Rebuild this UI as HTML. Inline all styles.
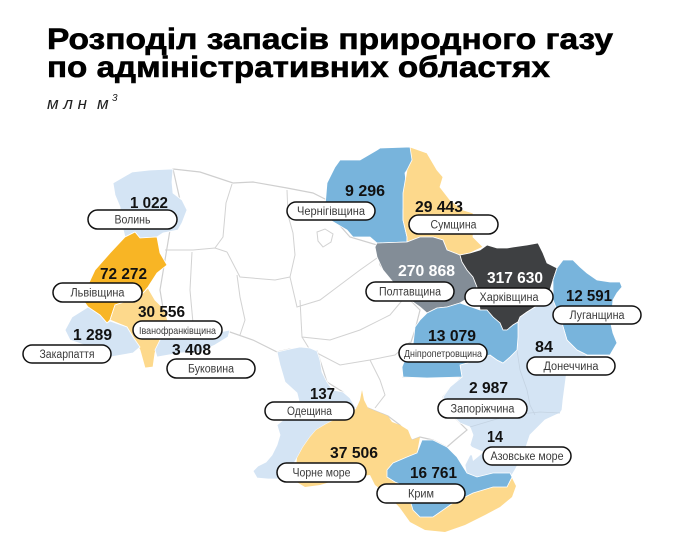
<!DOCTYPE html>
<html>
<head>
<meta charset="utf-8">
<style>
html,body{margin:0;padding:0;background:#fff;}
body{width:690px;height:555px;overflow:hidden;}
svg{display:block;}
.num{font-family:"Liberation Sans","DejaVu Sans",sans-serif;font-weight:bold;font-size:16px;fill:#111;}
.numw{fill:#fff;}
.lbl{font-family:"Liberation Sans","DejaVu Sans",sans-serif;font-size:11.5px;fill:#3a3a3a;}
.sm{font-size:10.5px;}
.pill{fill:#fff;stroke:#111;stroke-width:1.5;}
.ln{fill:none;stroke:#d2d2d2;stroke-width:1;}
</style>
</head>
<body>
<svg width="690" height="555" viewBox="0 0 690 555" xmlns="http://www.w3.org/2000/svg">
<!-- Title -->
<text x="47" y="49" font-family="'Liberation Sans','DejaVu Sans',sans-serif" font-weight="bold" font-size="30" fill="#000" stroke="#000" stroke-width="0.6" textLength="566" lengthAdjust="spacingAndGlyphs">Розподіл запасів природного газу</text>
<text x="47" y="77" font-family="'Liberation Sans','DejaVu Sans',sans-serif" font-weight="bold" font-size="30" fill="#000" stroke="#000" stroke-width="0.6" textLength="503" lengthAdjust="spacingAndGlyphs">по адміністративних областях</text>
<text x="47" y="109" font-family="'Liberation Sans','DejaVu Sans',sans-serif" font-style="italic" font-size="17" fill="#222" textLength="40" lengthAdjust="spacing">млн</text>
<text x="97" y="109" font-family="'Liberation Sans','DejaVu Sans',sans-serif" font-style="italic" font-size="17" fill="#222">м</text>
<text x="112" y="101" font-family="'Liberation Sans','DejaVu Sans',sans-serif" font-style="italic" font-size="10" fill="#222">3</text>

<!-- White body of country -->
<polygon fill="#fff" stroke="#cfcfcf" stroke-width="1.2" points="173,169 200,172 233,183 253,182 287,188 313,193 327,200 335,220 350,237 377,245 380,265 397,287 410,300 420,310 415,330 405,360 403,377 462,377 450,388 443,397 450,413 460,423 467,430 455,440 447,447 433,440 420,437 412,440 400,425 388,416 368,408 356,408 343,392 327,382 320,360 317,351 290,349 277,352 253,340 230,332 200,333 175,333 165,320 160,290 165,260 170,230 180,200"/>

<!-- internal gray lines -->
<polyline class="ln" points="232,184 226,203 223,237 215,248"/>
<polyline class="ln" points="165,250 193,250 215,248 227,252"/>
<polyline class="ln" points="192,252 190,290 193,323 195,333"/>
<polyline class="ln" points="287,190 288,215 293,233 295,255 290,277"/>
<polyline class="ln" points="227,252 240,277 275,280 290,277"/>
<polyline class="ln" points="237,275 240,297 245,320 240,335"/>
<polyline class="ln" points="290,277 297,307 320,300 340,285 360,270 377,258"/>
<polyline class="ln" points="300,300 302,337 330,340 360,330 390,315 405,297"/>
<polyline class="ln" points="302,337 310,350"/>
<polyline class="ln" points="317,353 340,365 370,360 395,355 410,342"/>
<polyline class="ln" points="370,360 380,380 385,395 375,408"/>
<polygon class="ln" points="317,232 325,229 333,234 331,242 323,247 318,241"/>

<!-- Volyn -->
<polygon fill="#d4e4f4" stroke="#fff" stroke-width="0.8" points="113,183 132,172 150,170 173,169 172,182 173,193 182,200 187,210 182,223 178,230 163,233 157,237 140,238 135,232 125,237 122,225 120,207 115,195"/>
<!-- Lviv -->
<polygon fill="#f8b525" stroke="#fff" stroke-width="0.8" points="125,237 135,232 140,238 157,237 160,253 167,265 157,273 148,287 143,293 130,300 115,305 110,320 107,323 100,315 88,307 83,300 88,285 95,270 110,253"/>
<!-- Ivano-Frankivsk -->
<polygon fill="#fdd98c" stroke="#fff" stroke-width="0.8" points="115,305 130,300 143,293 148,288 155,300 165,310 168,322 165,335 160,340 155,353 153,367 145,368 140,350 133,337 127,327 110,320"/>
<!-- Zakarpattia -->
<polygon fill="#d4e4f4" stroke="#fff" stroke-width="0.8" points="88,307 100,315 107,323 110,321 127,327 133,337 140,347 133,353 110,357 90,347 70,340 65,330 72,317"/>
<!-- Bukovina -->
<polygon fill="#d4e4f4" stroke="#fff" stroke-width="0.8" points="160,340 165,335 175,333 195,332 215,333 230,330 228,337 215,345 200,352 180,353 157,357 155,350"/>

<!-- Chernihiv -->
<polygon fill="#78b4dc" stroke="#fff" stroke-width="0.8" points="340,160 360,160 377,150 380,148 410,147 413,153 412,163 405,173 407,190 403,210 403,220 407,237 407,242 377,243 370,237 353,237 347,230 330,220 325,207 327,183 335,167"/>
<!-- Sumy -->
<polygon fill="#fdd98c" stroke="#fff" stroke-width="0.8" points="410,147 427,153 437,170 443,177 440,187 450,200 463,210 473,213 474,225 473,237 483,247 470,253 460,255 447,250 443,240 433,237 420,237 407,242 407,237 403,220 403,193 407,170 412,160"/>
<!-- Poltava -->
<polygon fill="#838d97" stroke="#fff" stroke-width="0.8" points="377,243 407,242 420,237 433,237 443,240 447,250 460,255 462,262 467,270 473,277 477,287 470,295 465,300 460,303 447,307 437,308 427,313 420,307 410,300 397,287 383,270 377,257 375,247"/>
<!-- Kharkiv -->
<polygon fill="#3e4042" stroke="#fff" stroke-width="0.8" points="460,255 470,253 480,250 487,245 497,248 507,248 513,247 527,245 538,243 543,253 547,263 557,268 553,280 550,290 545,303 535,307 527,312 520,317 518,322 513,325 507,330 503,330 500,323 493,317 487,310 480,310 477,287 473,277 467,270 462,262"/>
<!-- Luhansk -->
<polygon fill="#78b4dc" stroke="#fff" stroke-width="0.8" points="557,268 563,260 573,260 580,267 587,273 597,280 610,282 620,282 622,287 617,293 613,300 612,310 610,320 613,333 617,343 610,355 587,355 577,350 567,340 562,323 553,300 553,280"/>
<!-- Donetsk + Zaporizhzhia + Azov -->
<polygon fill="#d4e4f4" stroke="#fff" stroke-width="0.8" points="520,317 527,312 535,307 545,303 550,290 553,300 562,323 567,340 577,350 587,355 580,362 567,370 565,385 563,400 562,410 560,413 545,420 530,435 525,450 515,470 510,478 495,477 478,478 467,477 465,465 470,455 478,455 470,445 473,435 470,427 460,423 450,413 443,397 450,387 462,377 460,365 467,363 490,355 497,360 503,363 510,357 517,350 518,337 518,322"/>
<polyline fill="none" stroke="#c4d3e2" stroke-width="0.8" points="517,350 520,370 527,390 530,405 535,415"/>
<polyline fill="none" stroke="#c4d3e2" stroke-width="0.8" points="470,427 480,424 500,418 520,414 540,412 560,413"/>
<polygon fill="#fff" points="470,446 484,452 473,461"/>
<!-- Dnipro -->
<polygon fill="#78b4dc" stroke="#fff" stroke-width="0.8" points="420,320 427,313 437,308 447,307 460,303 480,310 487,310 493,317 500,323 503,330 507,330 513,325 518,322 518,337 517,350 510,357 503,363 497,360 490,355 467,363 460,365 462,377 427,378 403,377 402,367 406,357 413,345 415,327"/>

<!-- Odesa -->
<polygon fill="#d4e4f4" stroke="#fff" stroke-width="0.8" points="277,352 290,349 300,347 310,348 317,351 320,360 322,372 327,382 333,390 343,392 350,398 356,408 348,413 336,419 326,424 316,430 310,437 303,447 297,458 293,465 285,473 280,479 268,479 257,478 253,471 258,466 266,462 272,455 277,445 280,435 277,425 292,413 300,405 297,393 285,382 280,365"/>

<!-- Black sea -->
<polygon fill="#fdd98c" points="297,458 303,447 310,437 316,430 326,424 336,419 348,413 356,409 360,400 362,390 364,400 368,408 378,412 388,416 392,422 400,425 408,430 412,440 420,437 417,453 407,457 393,463 387,470 387,477 395,482 407,487 410,500 413,510 420,517 433,517 453,503 473,493 493,487 507,487 512,478 516,486 512,497 500,507 485,515 465,525 445,532 425,530 410,522 400,508 388,495 375,485 370,475 360,476 340,479 320,485 305,487 295,481 296,468"/>
<!-- Crimea -->
<polygon fill="#78b4dc" stroke="#fff" stroke-width="0.8" points="387,470 393,463 407,457 417,453 422,440 433,440 447,447 457,457 467,473 477,477 493,473 510,473 512,477 507,487 493,487 473,493 453,503 433,517 420,517 413,510 410,500 407,487 395,482 387,477"/>

<!-- Numbers -->
<text class="num" x="130" y="208" textLength="38" lengthAdjust="spacingAndGlyphs">1 022</text>
<text class="num" x="100" y="279" textLength="47" lengthAdjust="spacingAndGlyphs">72 272</text>
<text class="num" x="138" y="317" textLength="47" lengthAdjust="spacingAndGlyphs">30 556</text>
<text class="num" x="73" y="340" textLength="39" lengthAdjust="spacingAndGlyphs">1 289</text>
<text class="num" x="172" y="355" textLength="39" lengthAdjust="spacingAndGlyphs">3 408</text>
<text class="num" x="345" y="196" textLength="40" lengthAdjust="spacingAndGlyphs">9 296</text>
<text class="num" x="415" y="212" textLength="48" lengthAdjust="spacingAndGlyphs">29 443</text>
<text class="num numw" x="398" y="276" textLength="57" lengthAdjust="spacingAndGlyphs">270 868</text>
<text class="num numw" x="487" y="283" textLength="56" lengthAdjust="spacingAndGlyphs">317 630</text>
<text class="num" x="566" y="301" textLength="46" lengthAdjust="spacingAndGlyphs">12 591</text>
<text class="num" x="428" y="341" textLength="48" lengthAdjust="spacingAndGlyphs">13 079</text>
<text class="num" x="535" y="352" textLength="18" lengthAdjust="spacingAndGlyphs">84</text>
<text class="num" x="469" y="393" textLength="39" lengthAdjust="spacingAndGlyphs">2 987</text>
<text class="num" x="487" y="442" textLength="16" lengthAdjust="spacingAndGlyphs">14</text>
<text class="num" x="310" y="399" textLength="25" lengthAdjust="spacingAndGlyphs">137</text>
<text class="num" x="330" y="458" textLength="48" lengthAdjust="spacingAndGlyphs">37 506</text>
<text class="num" x="410" y="478" textLength="47" lengthAdjust="spacingAndGlyphs">16 761</text>

<!-- Pills -->
<rect class="pill" x="88" y="210" width="89" height="19" rx="9.5"/>
<text class="lbl" x="114.5" y="223.5" textLength="36" lengthAdjust="spacingAndGlyphs">Волинь</text>
<rect class="pill" x="53" y="283" width="89" height="19" rx="9.5"/>
<text class="lbl" x="70.5" y="296.5" textLength="54" lengthAdjust="spacingAndGlyphs">Львівщина</text>
<rect class="pill" x="133" y="321" width="89" height="18" rx="9"/>
<text class="lbl sm" x="139" y="334" textLength="77" lengthAdjust="spacingAndGlyphs">Іванофранківщина</text>
<rect class="pill" x="23" y="345" width="88" height="18" rx="9"/>
<text class="lbl" x="39.5" y="358" textLength="55" lengthAdjust="spacingAndGlyphs">Закарпаття</text>
<rect class="pill" x="167" y="359" width="88" height="19" rx="9.5"/>
<text class="lbl" x="188" y="372.5" textLength="46" lengthAdjust="spacingAndGlyphs">Буковина</text>
<rect class="pill" x="287" y="202" width="88" height="18" rx="9"/>
<text class="lbl" x="297" y="215" textLength="68" lengthAdjust="spacingAndGlyphs">Чернігівщина</text>
<rect class="pill" x="409" y="215" width="89" height="19" rx="9.5"/>
<text class="lbl" x="430.5" y="228.5" textLength="46" lengthAdjust="spacingAndGlyphs">Сумщина</text>
<rect class="pill" x="366" y="282" width="88" height="19" rx="9.5"/>
<text class="lbl" x="379" y="295.5" textLength="62" lengthAdjust="spacingAndGlyphs">Полтавщина</text>
<rect class="pill" x="465" y="288" width="88" height="18" rx="9"/>
<text class="lbl" x="479.5" y="301" textLength="59" lengthAdjust="spacingAndGlyphs">Харківщина</text>
<rect class="pill" x="553" y="306" width="88" height="18" rx="9"/>
<text class="lbl" x="569.5" y="319" textLength="55" lengthAdjust="spacingAndGlyphs">Луганщина</text>
<rect class="pill" x="399" y="344" width="88" height="18" rx="9"/>
<text class="lbl sm" x="404" y="357" textLength="78" lengthAdjust="spacingAndGlyphs">Дніпропетровщина</text>
<rect class="pill" x="527" y="357" width="88" height="18" rx="9"/>
<text class="lbl" x="543.5" y="370" textLength="55" lengthAdjust="spacingAndGlyphs">Донеччина</text>
<rect class="pill" x="438" y="399" width="89" height="19" rx="9.5"/>
<text class="lbl" x="450.5" y="412.5" textLength="64" lengthAdjust="spacingAndGlyphs">Запоріжчина</text>
<rect class="pill" x="483" y="447" width="88" height="18" rx="9"/>
<text class="lbl" x="490.5" y="460" textLength="73" lengthAdjust="spacingAndGlyphs">Азовське море</text>
<rect class="pill" x="265" y="402" width="89" height="18" rx="9"/>
<text class="lbl" x="287" y="415" textLength="45" lengthAdjust="spacingAndGlyphs">Одещина</text>
<rect class="pill" x="277" y="463" width="89" height="19" rx="9.5"/>
<text class="lbl" x="292.5" y="476.5" textLength="58" lengthAdjust="spacingAndGlyphs">Чорне море</text>
<rect class="pill" x="377" y="484" width="88" height="19" rx="9.5"/>
<text class="lbl" x="408" y="497.5" textLength="26" lengthAdjust="spacingAndGlyphs">Крим</text>
</svg>
</body>
</html>
